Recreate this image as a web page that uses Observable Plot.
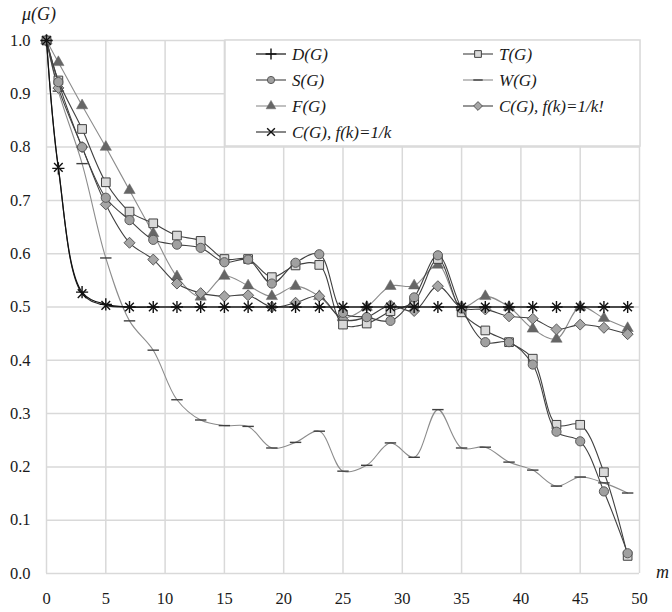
<!DOCTYPE html>
<html><head><meta charset="utf-8">
<script src="https://cdn.jsdelivr.net/npm/d3@7"></script>
<script src="https://cdn.jsdelivr.net/npm/@observablehq/plot@0.6"></script>
<style>
body{margin:0;background:#fff}
#wrap{position:relative;width:672px;height:612px}
#wrap svg{position:absolute;left:0;top:0}
</style>
</head><body><div id="wrap"></div>
<script>
// ---- data ----
const m = [0,1,3,5,7,9,11,13,15,17,19,21,23,25,27,29,31,33,35,37,39,41,43,45,47,49];
const D  = [1.0,0.76,0.528,0.505,0.5,0.5,0.5,0.5,0.5,0.5,0.5,0.5,0.5,0.5,0.5,0.5,0.5,0.5,0.5,0.5,0.5,0.5,0.5,0.5,0.5,0.5];
const Ck = [1.0,0.762,0.525,0.503,0.5,0.5,0.5,0.5,0.5,0.5,0.5,0.5,0.5,0.5,0.5,0.5,0.5,0.5,0.5,0.5,0.5,0.5,0.5,0.5,0.5,0.5];
const T  = [1.0,0.925,0.834,0.734,0.679,0.657,0.634,0.624,0.59,0.59,0.556,0.578,0.579,0.467,0.469,0.492,0.51,0.59,0.49,0.456,0.434,0.403,0.279,0.279,0.19,0.033];
const S  = [1.0,0.922,0.80,0.705,0.663,0.626,0.617,0.611,0.584,0.589,0.544,0.583,0.599,0.489,0.481,0.474,0.518,0.597,0.497,0.434,0.434,0.392,0.266,0.248,0.154,0.038];
const W  = [1.0,0.905,0.769,0.592,0.474,0.419,0.326,0.288,0.2775,0.276,0.2355,0.246,0.267,0.192,0.203,0.245,0.218,0.3075,0.2355,0.237,0.209,0.194,0.164,0.181,0.170,0.151];
const F  = [1.0,0.959,0.878,0.80,0.719,0.638,0.557,0.519,0.558,0.54,0.52,0.539,0.52,0.48,0.50,0.539,0.54,0.579,0.5,0.52,0.5,0.459,0.44,0.50,0.479,0.46];
const Cf = [1.0,0.911,0.80,0.6925,0.6205,0.589,0.544,0.526,0.52,0.522,0.5,0.508,0.52,0.476,0.481,0.503,0.4925,0.539,0.498,0.4955,0.4825,0.478,0.458,0.467,0.461,0.449];
const names = ["D(G)","T(G)","S(G)","W(G)","F(G)","C(G), f(k)=1/k!","C(G), f(k)=1/k"];
const xTicks = [0,5,10,15,20,25,30,35,40,45,50];
const yTicks = [0,0.1,0.2,0.3,0.4,0.5,0.6,0.7,0.8,0.9,1.0];

// ---- styles ----
const dash = {draw(ctx,size){const w=Math.sqrt(size)*0.7;ctx.moveTo(-w,0);ctx.lineTo(w,0);}};
const diamondSq = {draw(ctx,size){const w=Math.sqrt(size)*0.62;ctx.moveTo(0,-w);ctx.lineTo(w,0);ctx.lineTo(0,w);ctx.lineTo(-w,0);ctx.closePath();}};
const styles = {
  "D(G)":            {vals:D,  line:"#111",    lw:1.2, sym:"plus",    fill:"none",   stroke:"#111",    sw:1.4, r:4,   lr:3.6},
  "T(G)":            {vals:T,  line:"#404040", lw:1.1, sym:"square",  fill:"#d9d9d9",stroke:"#404040", sw:1,   r:4.9, lr:3.8},
  "S(G)":            {vals:S,  line:"#404040", lw:1.1, sym:"circle",  fill:"#a0a0a0",stroke:"#595959", sw:1,   r:4.6, lr:3.6},
  "W(G)":            {vals:W,  line:"#8c8c8c", lw:1.1, sym:dash,      fill:"none",   stroke:"#404040", sw:1.4, r:4.6, lr:3.8},
  "F(G)":            {vals:F,  line:"#8c8c8c", lw:1.1, sym:"triangle",fill:"#666666",stroke:"#666666", sw:0.5, r:4.2, lr:3.6},
  "C(G), f(k)=1/k!": {vals:Cf, line:"#404040", lw:1.1, sym:diamondSq, fill:"#a6a6a6",stroke:"#595959", sw:1,   r:5,   lr:4},
  "C(G), f(k)=1/k":  {vals:Ck, line:"#262626", lw:1.1, sym:"times",   fill:"none",   stroke:"#111",    sw:1.4, r:4,   lr:3.6}
};
const drawOrder = ["W(G)","F(G)","C(G), f(k)=1/k!","T(G)","S(G)","C(G), f(k)=1/k","D(G)"];

const marks = [
  Plot.gridX(xTicks,{stroke:"#d9d9d9",strokeOpacity:1,strokeWidth:1.5}),
  Plot.gridY(yTicks,{stroke:"#d9d9d9",strokeOpacity:1,strokeWidth:1.5}),
  Plot.axisX(xTicks,{tickSize:0,tickPadding:19,tickFormat:d=>d3.format("d")(d)}),
  Plot.axisY(yTicks,{tickSize:0,tickPadding:16,tickFormat:d3.format(".1f")})
];
for (const n of drawOrder) {
  const s = styles[n];
  const rows = m.map((x,i)=>({x, y:s.vals[i]}));
  marks.push(Plot.line(rows,{x:"x",y:"y",curve:"catmull-rom",stroke:s.line,strokeWidth:s.lw}));
  marks.push(Plot.dot(rows,{x:"x",y:"y",symbol:()=>s.sym,r:s.r,fill:s.fill,stroke:s.stroke,strokeWidth:s.sw}));
}

const chart = Plot.plot({
  width:672, height:612,
  marginLeft:46, marginRight:33, marginTop:40, marginBottom:39,
  x:{domain:[0,50], label:null},
  y:{domain:[0,1], label:null},
  style:{fontFamily:"Liberation Serif, serif", fontSize:"16.5px", color:"#1a1a1a", background:"#fff"},
  marks
});
document.getElementById("wrap").appendChild(chart);

// ---- overlay: legend and axis titles ----
const ov = d3.select("#wrap").append("svg").attr("width",672).attr("height",612)
  .style("font-family","Liberation Serif, serif");
ov.append("rect").attr("x",225).attr("y",40).attr("width",415).attr("height",106)
  .attr("fill","#fff").attr("stroke","#d9d9d9").attr("stroke-width",1.5);
const legendPos = [[256,54],[463,54],[256,80],[463,80],[256,106],[463,106],[256,132]];
names.forEach((n,i)=>{
  const s = styles[n], [lx,ly] = legendPos[i];
  const g = ov.append("g");
  g.append("line").attr("x1",lx).attr("x2",lx+30).attr("y1",ly).attr("y2",ly).attr("stroke",s.line).attr("stroke-width",s.lw);
  const symType = typeof s.sym === "string" ? ({plus:d3.symbolPlus,square:d3.symbolSquare,circle:d3.symbolCircle,triangle:d3.symbolTriangle,times:d3.symbolTimes})[s.sym] : s.sym;
  g.append("path").attr("transform",`translate(${lx+15},${ly})`)
    .attr("d",d3.symbol(symType, Math.PI*s.lr*s.lr)())
    .attr("fill",s.fill).attr("stroke",s.stroke).attr("stroke-width",s.sw);
  g.append("text").attr("x",lx+36).attr("y",ly).attr("dy","0.35em")
    .attr("font-style","italic").attr("font-size",17).attr("fill","#1a1a1a").text(n);
});
ov.append("text").attr("x",22).attr("y",20).attr("font-style","italic").attr("font-size",18).attr("fill","#1a1a1a").text("μ(G)");
ov.append("text").attr("x",656).attr("y",578).attr("font-style","italic").attr("font-size",18).attr("fill","#1a1a1a").text("m");
</script>
</body></html>
